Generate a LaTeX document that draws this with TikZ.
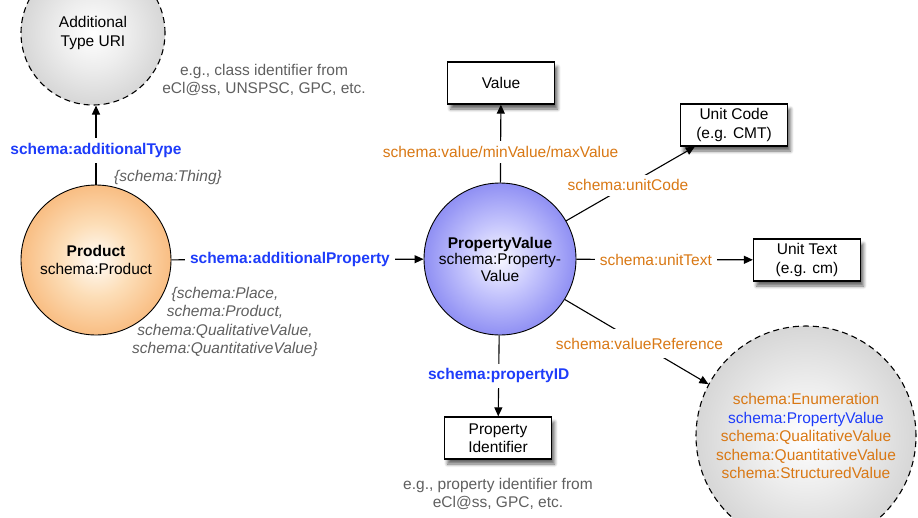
\documentclass[tikz,border=0pt]{standalone}
\usepackage{fontspec}
\setmainfont{Liberation Sans}
\usetikzlibrary{arrows.meta,shadows.blur}
\definecolor{schblue}{RGB}{30,60,250}
\definecolor{schorange}{RGB}{217,120,20}
\definecolor{notegray}{RGB}{95,95,95}
\pgfdeclareradialshading{prodshade}{\pgfpoint{0bp}{0bp}}{rgb(0bp)=(1,0.99,0.975); rgb(12bp)=(0.99,0.87,0.72); rgb(34bp)=(0.965,0.655,0.37); rgb(72bp)=(0.965,0.655,0.37)}
\pgfdeclareradialshading{pvshade}{\pgfpoint{0bp}{0bp}}{rgb(0bp)=(0.97,0.97,1); rgb(12bp)=(0.77,0.77,0.99); rgb(34bp)=(0.42,0.42,0.93); rgb(72bp)=(0.42,0.42,0.93)}
\pgfdeclareradialshading{urishade}{\pgfpoint{0bp}{0bp}}{rgb(0bp)=(1,1,1); rgb(12bp)=(0.93,0.93,0.93); rgb(34bp)=(0.78,0.78,0.78); rgb(72bp)=(0.78,0.78,0.78)}

\begin{document}
\fontsize{15.5}{18.5}\selectfont
\begin{tikzpicture}[x=1pt,y=-1pt,
  every node/.style={align=center},
  bigcirc/.style={circle, draw, line width=0.9pt, inner sep=0pt},
  uricirc/.style={bigcirc, dash pattern=on 6pt off 4pt, line width=1.1pt, shading=urishade},
  box/.style={draw, line width=1.3pt, fill=white, minimum width=107pt, minimum height=42pt, inner sep=2pt,
    blur shadow={shadow xshift=3pt, shadow yshift=-5pt, shadow blur steps=6, shadow opacity=60}},
  lab/.style={fill=white, inner sep=5pt},
  note/.style={text=notegray},
  arr/.style={line width=1.1pt, -{Triangle[length=9pt,width=8pt]}}]
\useasboundingbox (0,0) rectangle (918,517);

% circles
\node[uricirc, minimum size=144pt] (atype) at (93,33) {Additional\\Type URI};
\node[bigcirc, minimum size=150pt, shading=prodshade] (prod) at (96,260) {\textbf{Product}\\schema:Product};
\node[bigcirc, minimum size=152pt, shading=pvshade] (pv) at (500,259) {\textbf{PropertyValue}\\[-2pt]schema:Property-\\[-2pt]Value};
\node[uricirc, minimum size=220pt] (enum) at (806,436) {\textcolor{schorange}{schema:Enumeration}\\\textcolor{schblue}{schema:PropertyValue}\\\textcolor{schorange}{schema:QualitativeValue}\\\textcolor{schorange}{schema:QuantitativeValue}\\\textcolor{schorange}{schema:StructuredValue}};

% boxes
\node[box] (val) at (501,83) {Value};
\node[box] (uc) at (734,125) {Unit Code\\(e.g. CMT)};
\node[box] (ut) at (807,260) {Unit Text\\(e.g. cm)};
\node[box] (pid) at (498,438) {Property\\Identifier};

% notes
\node[note] (atnote) at (264,80) {e.g., class identifier from\\eCl@ss, UNSPSC, GPC, etc.};
\node[note, font=\itshape] (thing) at (168,177) {\{schema:Thing\}};
\node[note, font=\itshape] (range) at (225,322) {\{schema:Place,\\schema:Product,\\schema:QualitativeValue,\\schema:QuantitativeValue\}};
\node[note] (pidnote) at (498,494) {e.g., property identifier from\\eCl@ss, GPC, etc.};

% connectors
\draw[arr] (prod) -- node[lab, pos=0.43, text=schblue, font=\bfseries] {schema:additionalType} (prod |- atype.south);
\draw[arr] (prod) -- node[lab, pos=0.47, text=schblue, font=\bfseries] {schema:additionalProperty} (pv);
\draw[arr] (pv) -- node[lab, pos=0.39, text=schorange] {schema:value/minValue/maxValue} (val);
\draw[arr] (pv.30) -- node[lab, pos=0.48, text=schorange] {schema:unitCode} ([xshift=15pt]uc.south west);
\draw[arr] (pv) -- node[lab, pos=0.45, text=schorange] {schema:unitText} (ut);
\draw[arr] (pv.-32) -- node[lab, pos=0.52, inner ysep=9pt, text=schorange] {schema:valueReference} (enum.152);
\draw[arr] (pv) -- node[lab, pos=0.5, text=schblue, font=\bfseries] {schema:propertyID} (pid);

\end{tikzpicture}
\end{document}
